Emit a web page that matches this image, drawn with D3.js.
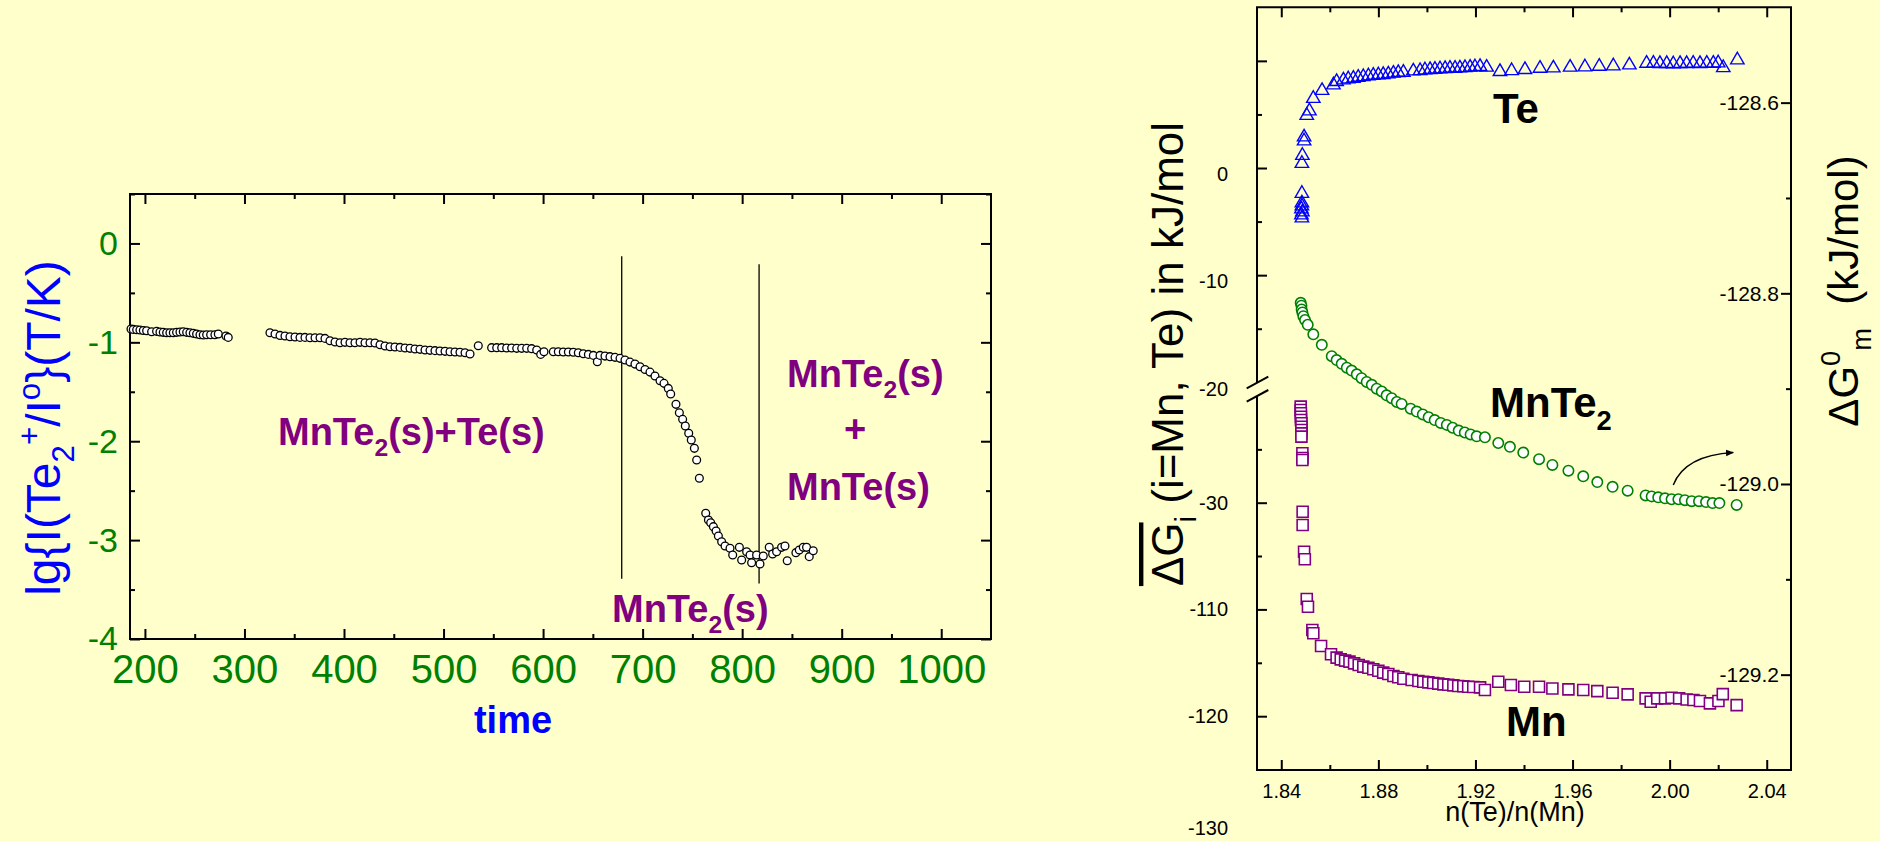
<!DOCTYPE html>
<html>
<head>
<meta charset="utf-8">
<script src="https://cdn.jsdelivr.net/npm/d3@7"></script>
<style>
  body { margin: 0; background: #ffffcc; overflow: hidden; }
  svg text { font-family: Arial, "Liberation Sans", Helvetica, sans-serif; }
</style>
</head>
<body>
<div id="vis"></div>
<script>
// ---------- left panel: lg{I(Te2+)/I0}(T/K) against time ----------
const timeVals = [
  186.0,188.3,191.7,195.0,198.4,201.7,206.7,211.7,215.1,218.4,221.8,225.1,228.5,231.8,235.2,238.5,241.9,245.2,248.6,251.9,255.3,258.6,262.0,266.0,270.3,273.7,281.4,283.7,
  325.6,330.7,335.7,340.7,345.7,350.8,355.8,360.8,365.8,370.9,375.9,380.9,385.9,391.0,396.0,401.0,406.0,411.0,416.1,421.1,426.1,431.1,436.2,441.2,446.2,451.2,456.3,461.3,466.3,471.3,476.3,481.4,486.4,491.4,496.4,501.5,506.5,511.5,516.5,521.6,526.6,534.9,
  548.3,553.4,558.4,563.4,568.4,573.5,
  578.5,583.5,588.5,593.6,597.6,600.9,610.3,615.3,620.3,625.4,630.4,635.4,640.4,645.5,650.5,654.5,657.2,662.2,667.2,672.3,677.3,682.3,687.3,692.3,697.4,702.4,707.4,712.4,717.5,721.5,725.8,728.2,733.5,736.9,740.2,742.9,746.3,748.9,752.0,754.3,757.0,
  763.4,766.1,768.4,771.1,773.8,776.1,
  779.4,782.8,787.8,790.5,797.2,799.5,804.5,807.9,809.5,814.5,817.9,821.2,827.2,830.6,834.6,839.6,843.0,845.3,854.0,857.4,861.4,864.7,867.4,871.4
];
const lgVals = [
  -0.866,-0.869,-0.873,-0.876,-0.880,-0.883,-0.893,-0.889,-0.896,-0.899,-0.903,-0.903,-0.903,-0.899,-0.896,-0.893,-0.899,-0.903,-0.909,-0.916,-0.923,-0.926,-0.923,-0.923,-0.923,-0.916,-0.936,-0.950,
  -0.903,-0.916,-0.930,-0.936,-0.943,-0.946,-0.950,-0.950,-0.953,-0.953,-0.953,-0.960,-0.984,-0.997,-1.004,-1.000,-1.004,-1.004,-1.000,-1.004,-1.004,-1.007,-1.024,-1.037,-1.044,-1.047,-1.051,-1.058,-1.061,-1.068,-1.071,-1.078,-1.081,-1.084,-1.088,-1.091,-1.095,-1.098,-1.101,-1.105,-1.118,-1.034,
  -1.054,-1.054,-1.054,-1.058,-1.058,-1.061,
  -1.061,-1.061,-1.064,-1.078,-1.122,-1.095,-1.095,-1.095,-1.098,-1.098,-1.101,-1.105,-1.115,-1.122,-1.132,-1.196,-1.132,-1.139,-1.145,-1.152,-1.162,-1.179,-1.200,-1.220,-1.247,-1.274,-1.301,-1.341,-1.388,-1.415,-1.466,-1.523,-1.627,-1.712,-1.779,-1.846,-1.920,-1.988,-2.072,-2.190,-2.375,
  -2.729,-2.797,-2.824,-2.864,-2.908,-2.958,
  -3.016,-3.059,-3.083,-3.150,-3.073,-3.201,-3.117,-3.150,-3.228,-3.150,-3.241,-3.161,-3.073,-3.140,-3.117,-3.073,-3.060,-3.208,-3.127,-3.100,-3.073,-3.073,-3.167,-3.107
];
const timeTicks = [200, 300, 400, 500, 600, 700, 800, 900, 1000];
const timeMinor = [250, 350, 450, 550, 650, 750, 850, 950];
const lgTicks = [0, -1, -2, -3, -4];
const lgMinor = [0.5, -0.5, -1.5, -2.5, -3.5];
// phase boundaries: time, top value, bottom value
const boundaryTime = [679, 817];
const boundaryTop = [-0.13, -0.21];
const boundaryBottom = [-3.39, -3.44];

// ---------- right panel: partial / molar Gibbs energies against n(Te)/n(Mn) ----------
const teX = [1.8485,1.8483,1.8487,1.8483,1.8485,1.8485,1.8485,1.8485,1.8487,1.8494,1.8494,1.8505,1.8516,1.8532,1.8568,1.8615,
  1.8628,1.8656,1.8676,1.8697,1.8717,1.8738,1.8759,1.8779,1.8800,1.8820,1.8841,1.8862,1.8882,1.8903,1.8944,1.8972,1.8992,1.9013,1.9033,1.9054,1.9075,1.9095,1.9116,1.9136,1.9157,1.9178,1.9198,1.9219,1.9246,
  1.9301,1.9349,1.9404,1.9466,1.9521,1.9590,1.9651,1.9710,1.9768,1.9834,
  1.9905,1.9933,1.9960,1.9988,2.0015,2.0043,2.0070,2.0097,2.0125,2.0153,2.0180,2.0200,2.0221,2.0279];
const teG = [-4.67,-4.39,-4.11,-3.83,-3.55,-3.27,-2.38,0.42,1.17,2.52,2.89,4.90,5.32,6.49,7.23,7.75,
  8.06,8.21,8.31,8.37,8.46,8.52,8.59,8.65,8.68,8.71,8.77,8.84,8.90,8.93,9.05,9.08,9.15,9.18,9.21,9.24,9.27,9.30,9.30,9.33,9.36,9.40,9.43,9.46,9.40,
  8.99,9.08,9.18,9.30,9.33,9.40,9.43,9.49,9.52,9.61,
  9.77,9.77,9.74,9.74,9.71,9.74,9.74,9.77,9.74,9.77,9.77,9.80,9.36,10.08];

const mnte2X = [1.8480,1.8483,1.8484,1.8487,1.8491,1.8498,1.8509,1.8532,1.8567,1.8608,
  1.8628,1.8649,1.8670,1.8690,1.8711,1.8731,1.8752,1.8773,1.8793,1.8814,1.8834,1.8855,1.8876,1.8896,1.8933,1.8958,1.8983,1.9007,1.9032,1.9057,1.9082,1.9106,1.9131,1.9156,1.9180,1.9205,1.9239,
  1.9294,1.9342,1.9397,1.9462,1.9517,1.9583,1.9644,1.9702,1.9765,1.9827,
  1.9901,1.9926,1.9953,1.9981,2.0008,2.0036,2.0063,2.0091,2.0121,2.0150,2.0177,2.0205,2.0276];
const mnte2G = [-128.810,-128.813,-128.817,-128.820,-128.824,-128.828,-128.833,-128.843,-128.854,-128.866,
  -128.870,-128.874,-128.878,-128.881,-128.885,-128.889,-128.893,-128.896,-128.900,-128.903,-128.907,-128.910,-128.914,-128.916,-128.921,-128.924,-128.927,-128.930,-128.933,-128.936,-128.938,-128.941,-128.944,-128.946,-128.948,-128.950,-128.951,
  -128.957,-128.961,-128.967,-128.974,-128.980,-128.986,-128.992,-128.998,-129.003,-129.007,
  -129.012,-129.013,-129.014,-129.015,-129.016,-129.016,-129.017,-129.018,-129.018,-129.019,-129.020,-129.020,-129.022];

const mnX = [1.8480,1.8480,1.8481,1.8481,1.8481,1.8483,1.8483,1.8483,1.8483,1.8483,1.8487,1.8487,1.8487,1.8488,1.8488,1.8494,1.8497,1.8505,1.8510,1.8528,1.8532,1.8564,1.8605,
  1.8628,1.8645,1.8663,1.8681,1.8700,1.8719,1.8738,1.8759,1.8779,1.8800,1.8820,1.8841,1.8862,1.8882,1.8903,1.8937,1.8965,1.8985,1.9006,1.9026,1.9047,1.9068,1.9088,1.9109,1.9129,1.9150,1.9170,1.9191,1.9219,1.9239,
  1.9294,1.9346,1.9401,1.9462,1.9517,1.9583,1.9644,1.9702,1.9765,1.9827,
  1.9901,1.9922,1.9949,1.9981,2.0008,2.0039,2.0070,2.0098,2.0125,2.0166,2.0201,2.0219,2.0276];
const mnG = [-21.00,-21.31,-21.62,-21.94,-22.25,-22.56,-22.88,-23.19,-23.50,-23.81,-25.37,-25.81,-26.00,-42.66,-61.38,-98.95,-105.31,-109.03,-109.75,-111.93,-112.24,-113.43,-114.20,
  -114.52,-114.68,-114.80,-114.89,-115.05,-115.21,-115.36,-115.46,-115.61,-115.74,-115.92,-116.05,-116.24,-116.36,-116.49,-116.61,-116.70,-116.77,-116.83,-116.89,-116.95,-117.02,-117.05,-117.11,-117.17,-117.20,-117.24,-117.27,-117.30,-117.55,
  -116.77,-117.08,-117.24,-117.24,-117.40,-117.49,-117.55,-117.65,-117.80,-117.96,
  -118.33,-118.65,-118.33,-118.33,-118.27,-118.33,-118.43,-118.49,-118.58,-118.80,-118.58,-117.93,-118.96];

const ratioTicks = [1.84, 1.88, 1.92, 1.96, 2.00, 2.04];
const ratioMinor = [1.86, 1.90, 1.94, 1.98, 2.02];
const upperTicks = [10, 0, -10];
const upperMinor = [5, -5, -15];
const lowerTicks = [-30, -110, -120];
const lowerMinor = [-25, -105, -115];
const molarTicks = [-128.6, -128.8, -129.0, -129.2];
const molarMinor = [-128.7, -128.9, -129.1];

const purple = "#800080", green = "#008000", blue = "#0000ff";

let svg = d3.select("#vis").append("svg")
  .attr("width", 1880)
  .attr("height", 841);
svg.append("rect").attr("width", 1880).attr("height", 841).attr("fill", "#ffffcc");

// writes text with sub/superscript parts into a <text>
function richText(sel, parts, size) {
  let shift = 0;
  parts.forEach(([s, kind]) => {
    const target = kind === "sub" ? 0.3 * size : kind === "sup" ? -0.42 * size : 0;
    sel.append("tspan")
      .attr("dy", target - shift)
      .attr("font-size", kind ? 0.65 * size : size)
      .text(s);
    shift = target;
  });
  return sel;
}

function tidy(g, color, size) {
  g.select(".domain").remove();
  g.selectAll("line").attr("stroke", "#000").attr("stroke-width", 2);
  g.selectAll("text").attr("fill", color).attr("font-size", size)
    .attr("font-family", "Arial, 'Liberation Sans', sans-serif");
}

// ================= left panel =================
const xL = d3.scaleLinear().domain([185, 1050]).range([130, 991]);
const yL = d3.scaleLinear().domain([-4, 0.5]).range([639, 194]);

svg.append("g").attr("transform", "translate(0,639)")
  .call(d3.axisBottom(xL).tickValues(timeTicks).tickSize(-10).tickPadding(16).tickFormat(d => String(d)))
  .call(g => tidy(g, green, 40));
svg.append("g").attr("transform", "translate(0,639)")
  .call(d3.axisBottom(xL).tickValues(timeMinor).tickSize(-5).tickFormat(""))
  .call(g => tidy(g, green, 40));
svg.append("g").attr("transform", "translate(0,194)")
  .call(d3.axisTop(xL).tickValues(timeTicks).tickSize(-10).tickFormat(""))
  .call(g => tidy(g, green, 40));
svg.append("g").attr("transform", "translate(0,194)")
  .call(d3.axisTop(xL).tickValues(timeMinor).tickSize(-5).tickFormat(""))
  .call(g => tidy(g, green, 40));
svg.append("g").attr("transform", "translate(130,0)")
  .call(d3.axisLeft(yL).tickValues(lgTicks).tickSize(-10).tickPadding(12).tickFormat(d => String(d)))
  .call(g => tidy(g, green, 34));
svg.append("g").attr("transform", "translate(130,0)")
  .call(d3.axisLeft(yL).tickValues(lgMinor).tickSize(-5).tickFormat(""))
  .call(g => tidy(g, green, 34));
svg.append("g").attr("transform", "translate(991,0)")
  .call(d3.axisRight(yL).tickValues(lgTicks).tickSize(-10).tickFormat(""))
  .call(g => tidy(g, green, 34));
svg.append("g").attr("transform", "translate(991,0)")
  .call(d3.axisRight(yL).tickValues(lgMinor).tickSize(-5).tickFormat(""))
  .call(g => tidy(g, green, 34));

svg.append("rect")
  .attr("x", xL(185)).attr("y", yL(0.5))
  .attr("width", xL(1050) - xL(185)).attr("height", yL(-4) - yL(0.5))
  .attr("fill", "none").attr("stroke", "#000").attr("stroke-width", 2);

// phase boundaries
svg.selectAll(".boundary")
  .data(boundaryTime)
  .enter()
  .append("line")
    .attr("x1", d => xL(d)).attr("x2", d => xL(d))
    .attr("y1", (d, i) => yL(boundaryTop[i]))
    .attr("y2", (d, i) => yL(boundaryBottom[i]))
    .attr("stroke", "#000").attr("stroke-width", 1.3);

svg.selectAll(".pt")
  .data(timeVals)
  .enter()
  .append("circle")
    .attr("cx", d => xL(d))
    .attr("cy", (d, i) => yL(lgVals[i]))
    .attr("r", 3.9)
    .attr("fill", "#fff")
    .attr("stroke", "#000")
    .attr("stroke-width", 1.3);

function phaseLabel(x, y, parts, anchor) {
  const t = svg.append("text").attr("x", x).attr("y", y)
    .attr("fill", purple).attr("font-weight", "bold")
    .attr("text-anchor", anchor || "start");
  richText(t, parts, 38);
}
phaseLabel(278, 445, [["MnTe"], ["2", "sub"], ["(s)+Te(s)"]]);
phaseLabel(787, 387, [["MnTe"], ["2", "sub"], ["(s)"]]);
phaseLabel(855, 442, [["+"]], "middle");
phaseLabel(787, 500, [["MnTe(s)"]]);
phaseLabel(612, 622, [["MnTe"], ["2", "sub"], ["(s)"]]);

svg.append("text")
  .attr("x", 513).attr("y", 733)
  .attr("text-anchor", "middle")
  .attr("font-size", 38).attr("font-weight", "bold")
  .attr("fill", blue)
  .text("time");

richText(svg.append("text")
  .attr("transform", "translate(60,428) rotate(-90)")
  .attr("text-anchor", "middle")
  .attr("fill", blue),
  [["lg{I(Te"], ["2", "sub"], ["+", "sup"], ["/I"], ["o", "sup"], ["}(T/K)"]], 48);

// ================= right panel =================
const xR = d3.scaleLinear().domain([1.83, 2.05]).range([1257, 1791]);
const yTe = d3.scaleLinear().domain([-20, 15]).range([382.3, 7.3]);
const yMn = d3.scaleLinear().domain([-20, -30, -105, -130]).range([396, 502.7, 556, 823]);
const yG = d3.scaleLinear().domain([-129.3, -128.5]).range([770, 7.3]);

const f2 = d => d.toFixed(2);
svg.append("g").attr("transform", "translate(0,770)")
  .call(d3.axisBottom(xR).tickValues(ratioTicks).tickSize(-10).tickPadding(14).tickFormat(f2))
  .call(g => tidy(g, "#000", 20));
svg.append("g").attr("transform", "translate(0,770)")
  .call(d3.axisBottom(xR).tickValues(ratioMinor).tickSize(-5).tickFormat(""))
  .call(g => tidy(g, "#000", 20));
svg.append("g").attr("transform", "translate(0,7.3)")
  .call(d3.axisTop(xR).tickValues(ratioTicks).tickSize(-10).tickFormat(""))
  .call(g => tidy(g, "#000", 20));
svg.append("g").attr("transform", "translate(0,7.3)")
  .call(d3.axisTop(xR).tickValues(ratioMinor).tickSize(-5).tickFormat(""))
  .call(g => tidy(g, "#000", 20));

svg.append("g").attr("transform", "translate(1257,0)")
  .call(d3.axisLeft(yTe).tickValues(upperTicks).tickSize(-10).tickPadding(29).tickFormat(d => d === 10 ? "" : String(d)))
  .call(g => tidy(g, "#000", 20))
  .call(g => g.selectAll("text").attr("dy", "0.6em"));
svg.append("g").attr("transform", "translate(1257,0)")
  .call(d3.axisLeft(yTe).tickValues(upperMinor).tickSize(-5).tickFormat(""))
  .call(g => tidy(g, "#000", 20));
svg.append("g").attr("transform", "translate(1257,0)")
  .call(d3.axisLeft(yMn).tickValues(lowerTicks).tickSize(-10).tickPadding(29).tickFormat(d => String(d)))
  .call(g => tidy(g, "#000", 20));
svg.append("g").attr("transform", "translate(1257,0)")
  .call(d3.axisLeft(yMn).tickValues(lowerMinor).tickSize(-5).tickFormat(""))
  .call(g => tidy(g, "#000", 20));

// labels that sit on the break and below the frame
svg.append("text").attr("x", 1228).attr("y", (yTe(-20) + yMn(-20)) / 2).attr("dy", "0.32em")
  .attr("text-anchor", "end").attr("font-size", 20).text("-20");
svg.append("text").attr("x", 1228).attr("y", yMn(-130)).attr("dy", "0.6em")
  .attr("text-anchor", "end").attr("font-size", 20).text("-130");

svg.append("g").attr("transform", "translate(1791,0)")
  .call(d3.axisLeft(yG).tickValues(molarTicks).tickSize(10).tickPadding(2).tickFormat(d => d.toFixed(1)))
  .call(g => tidy(g, "#000", 21));
svg.append("g").attr("transform", "translate(1791,0)")
  .call(d3.axisLeft(yG).tickValues(molarMinor).tickSize(5).tickFormat(""))
  .call(g => tidy(g, "#000", 21));

// frame with broken left axis
const frame = svg.append("g").attr("stroke", "#000").attr("stroke-width", 2).attr("fill", "none");
frame.append("path").attr("d", `M1257,383 V7.3 H1791 V770 H1257 V396`);
frame.append("line").attr("x1", 1246.7).attr("y1", 388.3).attr("x2", 1268.3).attr("y2", 376.7);
frame.append("line").attr("x1", 1246.7).attr("y1", 401.7).attr("x2", 1268.3).attr("y2", 390);

// Te triangles
svg.selectAll(".te")
  .data(teX)
  .enter()
  .append("path")
    .attr("d", d3.symbol(d3.symbolTriangle, 78))
    .attr("transform", (d, i) => `translate(${xR(d)},${yTe(teG[i])})`)
    .attr("fill", "none")
    .attr("stroke", blue)
    .attr("stroke-width", 1.4);

// MnTe2 circles (right axis)
svg.selectAll(".mnte2")
  .data(mnte2X)
  .enter()
  .append("circle")
    .attr("cx", d => xR(d))
    .attr("cy", (d, i) => yG(mnte2G[i]))
    .attr("r", 5.2)
    .attr("fill", "#fff")
    .attr("stroke", green)
    .attr("stroke-width", 1.6);

// Mn squares
svg.selectAll(".mn")
  .data(mnX)
  .enter()
  .append("path")
    .attr("d", d3.symbol(d3.symbolSquare, 121))
    .attr("transform", (d, i) => `translate(${xR(d)},${yMn(mnG[i])})`)
    .attr("fill", "#fff")
    .attr("stroke", purple)
    .attr("stroke-width", 1.6);

// series names
function seriesLabel(x, y, parts) {
  richText(svg.append("text").attr("x", x).attr("y", y).attr("font-weight", "bold").attr("fill", "#000"), parts, 42);
}
seriesLabel(1493, 123, [["Te"]]);
seriesLabel(1490, 417, [["MnTe"], ["2", "sub"]]);
seriesLabel(1506, 736, [["Mn"]]);

// arrow pointing MnTe2 to the right axis
svg.append("defs").append("marker")
  .attr("id", "head").attr("viewBox", "0 0 10 10")
  .attr("refX", 9).attr("refY", 5)
  .attr("markerWidth", 8).attr("markerHeight", 8)
  .attr("markerUnits", "userSpaceOnUse")
  .attr("orient", "auto")
  .append("path").attr("d", "M0,1 L10,5 L0,9 z").attr("fill", "#000");
svg.append("path")
  .attr("d", `M${xR(2.0015)},${yG(-129.001)} Q${xR(2.0063)},${yG(-128.970)} ${xR(2.0262)},${yG(-128.967)}`)
  .attr("fill", "none").attr("stroke", "#000").attr("stroke-width", 1.4)
  .attr("marker-end", "url(#head)");

// axis titles
svg.append("text")
  .attr("x", 1515).attr("y", 821)
  .attr("text-anchor", "middle").attr("font-size", 27)
  .text("n(Te)/n(Mn)");

const lt = svg.append("text")
  .attr("transform", "translate(1183,354) rotate(-90)")
  .attr("text-anchor", "middle")
  .style("white-space", "pre");
lt.append("tspan").attr("font-size", 44).attr("text-decoration", "overline").text("ΔG");
lt.append("tspan").attr("font-size", 29).attr("dy", 13).text("i");
lt.append("tspan").attr("font-size", 44).attr("dy", -13).text(" (i=Mn, Te) in kJ/mol");

richText(svg.append("text")
  .attr("transform", "translate(1858,291) rotate(-90)")
  .attr("text-anchor", "middle")
  .style("white-space", "pre"),
  [["ΔG"], ["0", "sup"], ["m", "sub"], ["  (kJ/mol)"]], 42);
</script>
</body>
</html>
